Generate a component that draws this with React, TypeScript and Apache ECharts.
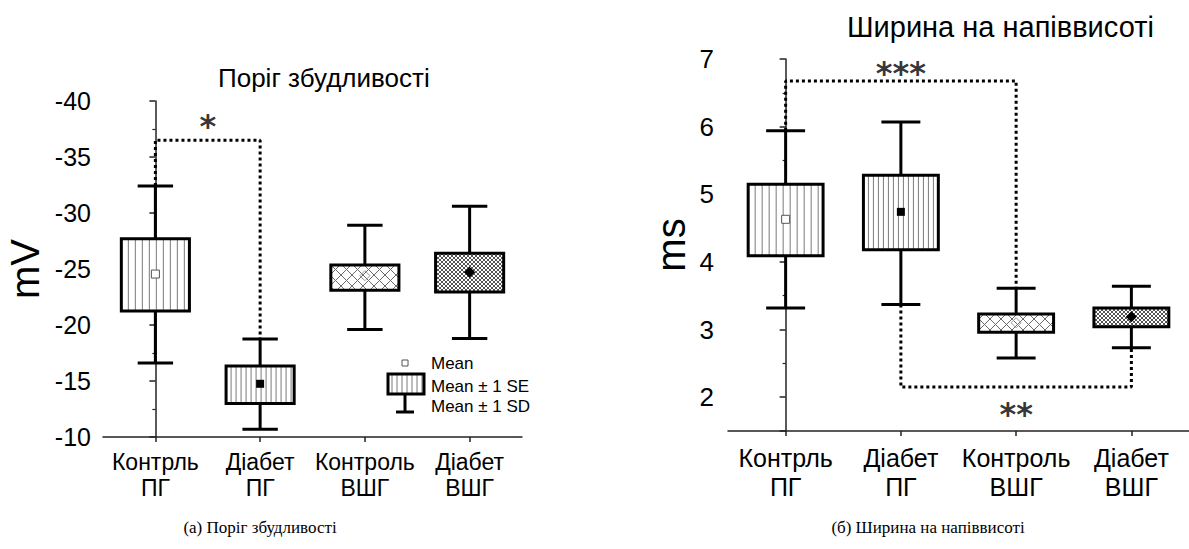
import React, { useEffect, useRef } from 'react';
import * as echarts from 'echarts';

// ---------- DATA ----------
const categories = ['Контрль\nПГ', 'Діабет\nПГ', 'Контроль\nВШГ', 'Діабет\nВШГ'];

// (а) Поріг збудливості, mV
const thrMean = [-24.55, -14.75, -24.4, -24.7];
const thrSeLow = [-21.25, -13.0, -23.1, -22.95];
const thrSeHigh = [-27.7, -16.35, -25.35, -26.4];
const thrSdLow = [-16.6, -10.7, -19.6, -18.8];
const thrSdHigh = [-32.4, -18.75, -28.9, -30.6];
const thrBracket = [[0, -32.4], [0, -36.5], [1, -36.5], [1, -18.75]];
const thrStars = [{ x: 0.5, y: -37.75, text: '*' }];

// (б) Ширина на напіввисоті, ms
const widMean = [4.63, 4.74, 3.1, 3.19];
const widSeLow = [4.09, 4.18, 2.96, 3.04];
const widSeHigh = [5.15, 5.28, 3.23, 3.32];
const widSdLow = [3.32, 3.37, 2.58, 2.73];
const widSdHigh = [5.94, 6.07, 3.61, 3.64];
const widBracketA = [[0, 5.94], [0, 6.675], [2, 6.675], [2, 3.61]];
const widBracketB = [[1, 3.37], [1, 2.15], [3, 2.15], [3, 2.73]];
const widStars = [
  { x: 1, y: 6.8, text: '***' },
  { x: 2, y: 1.75, text: '**' },
];

const legendLabels = ['Mean', 'Mean ± 1 SE', 'Mean ± 1 SD'];
const captions = ['(а) Поріг збудливості', '(б) Ширина на напіввисоті'];

// ---------- HELPERS ----------
const SANS = '"Liberation Sans", Arial, Helvetica, sans-serif';
const SERIF = '"Liberation Serif", "DejaVu Serif", serif';

const rows = (lo: number[], seLo: number[], m: number[], seHi: number[], hi: number[]) =>
  m.map((v, i) => [i, lo[i], seLo[i], v, seHi[i], hi[i]]);

function diag(x0: number, y0: number, x1: number, y1: number, step: number, slope: number, stroke: string, w: number) {
  const out: any[] = [];
  const cMin = slope > 0 ? y0 - x1 : y0 + x0;
  const cMax = slope > 0 ? y1 - x0 : y1 + x1;
  for (let c = Math.ceil(cMin / step) * step; c <= cMax; c += step) {
    const lo = slope > 0 ? y0 - c : c - y1;
    const hi = slope > 0 ? y1 - c : c - y0;
    const xa = Math.max(x0, lo);
    const xb = Math.min(x1, hi);
    if (xb - xa > 0.3) {
      out.push({
        type: 'line',
        shape: { x1: xa, y1: slope * xa + c, x2: xb, y2: slope * xb + c },
        style: { stroke, lineWidth: w },
      });
    }
  }
  return out;
}

const renderBox = (params: any, api: any) => {
  const i = api.value(0);
  const xc = api.coord([i, api.value(3)])[0];
  const band = api.size([1, 0])[0];
  const bw = band * 0.65;
  const cw = bw * 0.52;
  const yv = (k: number) => api.coord([i, api.value(k)])[1];
  const sdA = yv(1), seA = yv(2), my = yv(3), seB = yv(4), sdB = yv(5);
  const bTop = Math.min(seA, seB), bBot = Math.max(seA, seB);
  const wTop = Math.min(sdA, sdB), wBot = Math.max(sdA, sdB);
  const x0 = xc - bw / 2, x1 = xc + bw / 2;
  const ln = (a: number, b: number, c: number, d: number) => ({
    type: 'line',
    shape: { x1: a, y1: b, x2: c, y2: d },
    style: { stroke: '#000', lineWidth: 3 },
  });
  const ch: any[] = [
    ln(xc, wTop, xc, bTop),
    ln(xc, bBot, xc, wBot),
    ln(xc - cw / 2, wTop, xc + cw / 2, wTop),
    ln(xc - cw / 2, wBot, xc + cw / 2, wBot),
    { type: 'rect', shape: { x: x0, y: bTop, width: bw, height: bBot - bTop }, style: { fill: '#fff' } },
  ];
  if (i === 0 || i === 1) {
    const step = i === 0 ? 7 : 5;
    for (let x = x0 + step; x < x1 - 1; x += step) {
      ch.push({ type: 'line', shape: { x1: x, y1: bTop, x2: x, y2: bBot }, style: { stroke: '#7a7a7a', lineWidth: 1 } });
    }
  } else if (i === 2) {
    ch.push(...diag(x0, bTop, x1, bBot, 11, 1, '#6a6a6a', 1));
    ch.push(...diag(x0, bTop, x1, bBot, 11, -1, '#6a6a6a', 1));
  } else {
    ch.push(...diag(x0, bTop, x1, bBot, 4, 1, '#555', 1));
    ch.push(...diag(x0, bTop, x1, bBot, 4, -1, '#555', 1));
  }
  ch.push({
    type: 'rect',
    shape: { x: x0, y: bTop, width: bw, height: bBot - bTop },
    style: { fill: 'none', stroke: '#000', lineWidth: 3 },
  });
  if (i === 0) {
    ch.push({ type: 'rect', shape: { x: xc - 4, y: my - 4, width: 8, height: 8 }, style: { fill: '#fff', stroke: '#555', lineWidth: 1 } });
  } else if (i === 1) {
    ch.push({ type: 'rect', shape: { x: xc - 4, y: my - 4, width: 8, height: 8 }, style: { fill: '#000' } });
  } else if (i === 2) {
    ch.push({ type: 'polygon', shape: { points: [[xc, my - 5], [xc + 5, my], [xc, my + 5], [xc - 5, my]] }, style: { fill: 'none', stroke: '#999', lineWidth: 1 } });
  } else {
    ch.push({ type: 'polygon', shape: { points: [[xc, my - 5.5], [xc + 5.5, my], [xc, my + 5.5], [xc - 5.5, my]] }, style: { fill: '#000' } });
  }
  return { type: 'group', children: ch };
};

const axisLine = { show: true, lineStyle: { color: '#222', width: 1.5 } };

function catAxis(grid: number, fontSize: number, lineHeight: number, margin: number) {
  return {
    gridIndex: grid,
    type: 'category',
    data: categories,
    boundaryGap: true,
    axisLine,
    axisTick: { show: true, alignWithLabel: true, length: 5, lineStyle: { color: '#222', width: 1.5 } },
    axisLabel: { fontSize, lineHeight, margin, color: '#000', fontFamily: SANS, interval: 0 },
    splitLine: { show: false },
  };
}

const hiddenX = (grid: number) => ({ gridIndex: grid, type: 'value', min: -0.5, max: 3.5, show: false });

const bracketSeries = (data: number[][], xi: number, yi: number) => ({
  type: 'line',
  xAxisIndex: xi,
  yAxisIndex: yi,
  data,
  symbol: 'none',
  silent: true,
  z: 1,
  lineStyle: { color: '#000', width: 3, type: [3, 3] },
});

const starSeries = (stars: { x: number; y: number; text: string }[], xi: number, yi: number) => ({
  type: 'scatter',
  xAxisIndex: xi,
  yAxisIndex: yi,
  symbolSize: 1,
  itemStyle: { color: 'rgba(0,0,0,0)' },
  data: stars.map((s) => ({ value: [s.x, s.y], name: s.text })),
  label: {
    show: true,
    position: 'inside',
    formatter: '{b}',
    fontSize: 32,
    fontWeight: 'bold',
    color: '#000',
    fontFamily: '"DejaVu Sans", sans-serif',
  },
  z: 5,
});

export default function App() {
  const ref = useRef<HTMLDivElement>(null);
  useEffect(() => {
    if (!ref.current) return;
    const chart = echarts.init(ref.current, undefined, { renderer: 'svg' });
    const legendBoxLines: any[] = [];
    for (let x = 392; x < 423; x += 5) {
      legendBoxLines.push({ type: 'line', shape: { x1: x, y1: 374, x2: x, y2: 394 }, style: { stroke: '#7a7a7a', lineWidth: 1 } });
    }
    const option: any = {
      animation: false,
      backgroundColor: '#fff',
      textStyle: { fontFamily: SANS },
      title: [
        { text: 'Поріг збудливості', left: 213, top: 60, textStyle: { fontSize: 26, fontWeight: 'normal', color: '#000', fontFamily: SANS } },
        { text: 'Ширина на напіввисоті', left: 842, top: 7, textStyle: { fontSize: 29, fontWeight: 'normal', color: '#000', fontFamily: SANS } },
      ],
      grid: [
        { left: 103, top: 101, width: 419, height: 336 },
        { left: 728, top: 59, width: 461, height: 372 },
      ],
      xAxis: [catAxis(0, 23, 26, 12), hiddenX(0), catAxis(1, 25, 29, 12), hiddenX(1)],
      yAxis: [
        {
          gridIndex: 0,
          type: 'value',
          inverse: true,
          min: -40,
          max: -10,
          interval: 5,
          name: 'mV',
          nameLocation: 'middle',
          nameGap: 58,
          nameTextStyle: { fontSize: 40, color: '#000', fontFamily: SANS },
          axisLine,
          axisTick: { show: true, length: 6, lineStyle: { color: '#222', width: 1.5 } },
          minorTick: { show: true, splitNumber: 2, length: 3, lineStyle: { color: '#222', width: 1.2 } },
          splitLine: { show: false },
          axisLabel: { fontSize: 25, color: '#000', margin: 12, fontFamily: SANS },
        },
        {
          gridIndex: 1,
          type: 'value',
          min: 1.5,
          max: 7,
          splitNumber: 5,
          minInterval: 1,
          maxInterval: 1,
          name: 'ms',
          nameLocation: 'middle',
          nameGap: 37,
          nameTextStyle: { fontSize: 40, color: '#000', fontFamily: SANS },
          axisLine,
          axisTick: { show: true, length: 6, lineStyle: { color: '#222', width: 1.5 } },
          minorTick: { show: true, splitNumber: 2, length: 3, lineStyle: { color: '#222', width: 1.2 } },
          splitLine: { show: false },
          axisLabel: {
            fontSize: 26,
            color: '#000',
            margin: 14,
            fontFamily: SANS,
            formatter: (v: number) => (Number.isInteger(v) ? String(v) : ''),
          },
        },
      ],
      series: [
        bracketSeries(thrBracket, 1, 0),
        {
          type: 'custom',
          xAxisIndex: 0,
          yAxisIndex: 0,
          renderItem: renderBox,
          encode: { x: 0, y: [1, 2, 3, 4, 5] },
          data: rows(thrSdLow, thrSeLow, thrMean, thrSeHigh, thrSdHigh),
          z: 3,
        },
        starSeries(thrStars, 1, 0),
        bracketSeries(widBracketA, 3, 1),
        bracketSeries(widBracketB, 3, 1),
        {
          type: 'custom',
          xAxisIndex: 2,
          yAxisIndex: 1,
          renderItem: renderBox,
          encode: { x: 0, y: [1, 2, 3, 4, 5] },
          data: rows(widSdLow, widSeLow, widMean, widSeHigh, widSdHigh),
          z: 3,
        },
        starSeries(widStars, 3, 1),
      ],
      graphic: [
        { type: 'rect', shape: { x: 402, y: 360, width: 6, height: 6 }, style: { fill: '#fff', stroke: '#555', lineWidth: 1 }, z: 10 },
        { type: 'rect', shape: { x: 388, y: 374, width: 36, height: 20 }, style: { fill: '#fff' }, z: 10 },
        ...legendBoxLines.map((l) => ({ ...l, z: 11 })),
        { type: 'rect', shape: { x: 388, y: 374, width: 36, height: 20 }, style: { fill: 'none', stroke: '#000', lineWidth: 3 }, z: 12 },
        { type: 'line', shape: { x1: 405, y1: 395, x2: 405, y2: 412 }, style: { stroke: '#000', lineWidth: 3 }, z: 10 },
        { type: 'line', shape: { x1: 396, y1: 412, x2: 414, y2: 412 }, style: { stroke: '#000', lineWidth: 3 }, z: 10 },
        ...legendLabels.map((t, k) => ({
          type: 'text',
          z: 10,
          style: { text: t, x: 431, y: [363, 386, 406][k], fontSize: 17, fontFamily: SANS, fill: '#000', verticalAlign: 'middle' },
        })),
        {
          type: 'text',
          style: { text: captions[0], x: 260, y: 527, fontSize: 17, fontFamily: SERIF, fill: '#000', align: 'center', verticalAlign: 'middle' },
        },
        {
          type: 'text',
          style: { text: captions[1], x: 928, y: 527, fontSize: 17, fontFamily: SERIF, fill: '#000', align: 'center', verticalAlign: 'middle' },
        },
      ],
    };
    chart.setOption(option);
    return () => chart.dispose();
  }, []);
  return <div ref={ref} style={{ position: 'absolute', left: 0, top: 0, width: 1189, height: 549, background: '#fff' }} />;
}
